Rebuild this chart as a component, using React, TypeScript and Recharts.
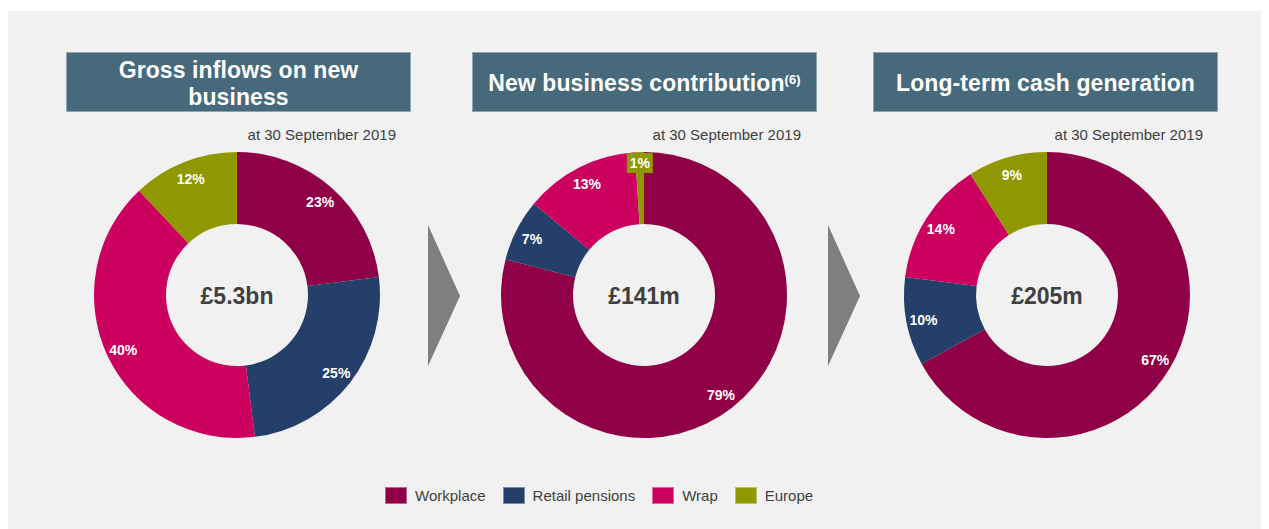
import { Legend, Pie, PieChart, Cell } from 'recharts'

const segments = ['Workplace', 'Retail pensions', 'Wrap', 'Europe']
const colors = ['#8f0046', '#243f69', '#cc005f', '#8f9800']

const grossInflows = [23, 25, 40, 12]
const newBusiness = [79, 7, 13, 1]
const cashGeneration = [67, 10, 14, 9]

const totals = ['£5.3bn', '£141m', '£205m']
const titles = ['Gross inflows on new business', 'New business contribution', 'Long-term cash generation']
const subtitle = 'at 30 September 2019'

const W = 1261
const H = 518
const FONT = '"Liberation Sans", Arial, sans-serif'
const RAD = Math.PI / 180

const toRows = (vals: number[]) => segments.map((name, i) => ({ name, value: vals[i] }))

function SliceLabel(props: any) {
  const { cx, cy, midAngle, innerRadius, outerRadius, value, index } = props
  const small = value < 3
  const r = small ? outerRadius - 10 : innerRadius + (outerRadius - innerRadius) * 0.76
  const x = cx + r * Math.cos(-midAngle * RAD)
  const y = cy + r * Math.sin(-midAngle * RAD)
  return (
    <g>
      {small && <rect x={x - 13} y={y - 9} width={26} height={20} fill={colors[index]} />}
      <text
        x={x}
        y={y + 1}
        textAnchor="middle"
        dominantBaseline="central"
        fill="#ffffff"
        fontFamily={FONT}
        fontWeight="bold"
        fontSize={14}
      >
        {value}%
      </text>
    </g>
  )
}

function LegendContent() {
  return (
    <div style={{ display: 'flex', alignItems: 'center', paddingLeft: 377, fontFamily: FONT, fontSize: 15, color: '#404040' }}>
      {segments.map((s, i) => (
        <div key={s} style={{ display: 'flex', alignItems: 'center', marginRight: 17 }}>
          <span style={{ width: 20, height: 15, background: colors[i], border: '1px solid rgba(255,255,255,0.4)', marginRight: 8 }} />
          <span>{s}</span>
        </div>
      ))}
    </div>
  )
}

const headerLeft = [58, 464, 865]
const centersX = [229, 636, 1039]
const CY = 284
const subRight = [388, 793, 1195]
const arrowLeft = [420, 820]

export default function App() {
  const series = [grossInflows, newBusiness, cashGeneration]
  return (
    <div style={{ position: 'relative', width: W, height: H, marginTop: 3, background: '#f1f1f1', fontFamily: FONT }}>
      {/* header boxes */}
      {titles.map((t, i) => (
        <div
          key={t}
          style={{
            position: 'absolute',
            left: headerLeft[i],
            top: 41,
            width: 345,
            height: 60,
            boxSizing: 'border-box',
            paddingTop: 3,
            background: '#46697c',
            border: '1px solid #8ea5b2',
            color: '#ffffff',
            fontWeight: 'bold',
            fontSize: 23,
            lineHeight: '27px',
            letterSpacing: 0.1,
            display: 'flex',
            alignItems: 'center',
            justifyContent: 'center',
            textAlign: 'center',
          }}
        >
          <span style={{ maxWidth: i === 0 ? 260 : 340 }}>
            {t}
            {i === 1 && <sup style={{ fontSize: 13, verticalAlign: 'top', position: 'relative', top: -4 }}>(6)</sup>}
          </span>
        </div>
      ))}
      {subRight.map((r, i) => (
        <div
          key={i}
          style={{ position: 'absolute', left: r - 200, width: 200, top: 115, textAlign: 'right', fontSize: 15, color: '#404040' }}
        >
          {subtitle}
        </div>
      ))}
      <svg style={{ position: 'absolute', left: 0, top: 0 }} width={W} height={H}>
        {arrowLeft.map((x) => (
          <polygon key={x} points={`${x},214 ${x + 32},285 ${x},355`} fill="#7f7f7f" />
        ))}
      </svg>
      <div style={{ position: 'absolute', left: 0, top: 0 }}>
        <PieChart width={W} height={H} margin={{ top: 0, right: 0, bottom: 0, left: 0 }}>
          {series.map((vals, i) => (
            <Pie
              key={i}
              data={toRows(vals)}
              dataKey="value"
              nameKey="name"
              cx={centersX[i]}
              cy={CY}
              innerRadius={71}
              outerRadius={143}
              startAngle={90}
              endAngle={-270}
              stroke="none"
              label={SliceLabel}
              labelLine={false}
              isAnimationActive={false}
            >
              {vals.map((_, j) => (
                <Cell key={j} fill={colors[j]} />
              ))}
            </Pie>
          ))}
          <Legend
            content={LegendContent}
            wrapperStyle={{ position: 'absolute', top: 476, left: 0, width: W }}
          />
        </PieChart>
      </div>
      <svg style={{ position: 'absolute', left: 0, top: 0, pointerEvents: 'none' }} width={W} height={H}>
        {totals.map((t, i) => (
          <text
            key={t}
            x={centersX[i]}
            y={CY + 1}
            textAnchor="middle"
            dominantBaseline="central"
            fill="#404040"
            fontFamily={FONT}
            fontWeight="bold"
            fontSize={23}
          >
            {t}
          </text>
        ))}
      </svg>
    </div>
  )
}
